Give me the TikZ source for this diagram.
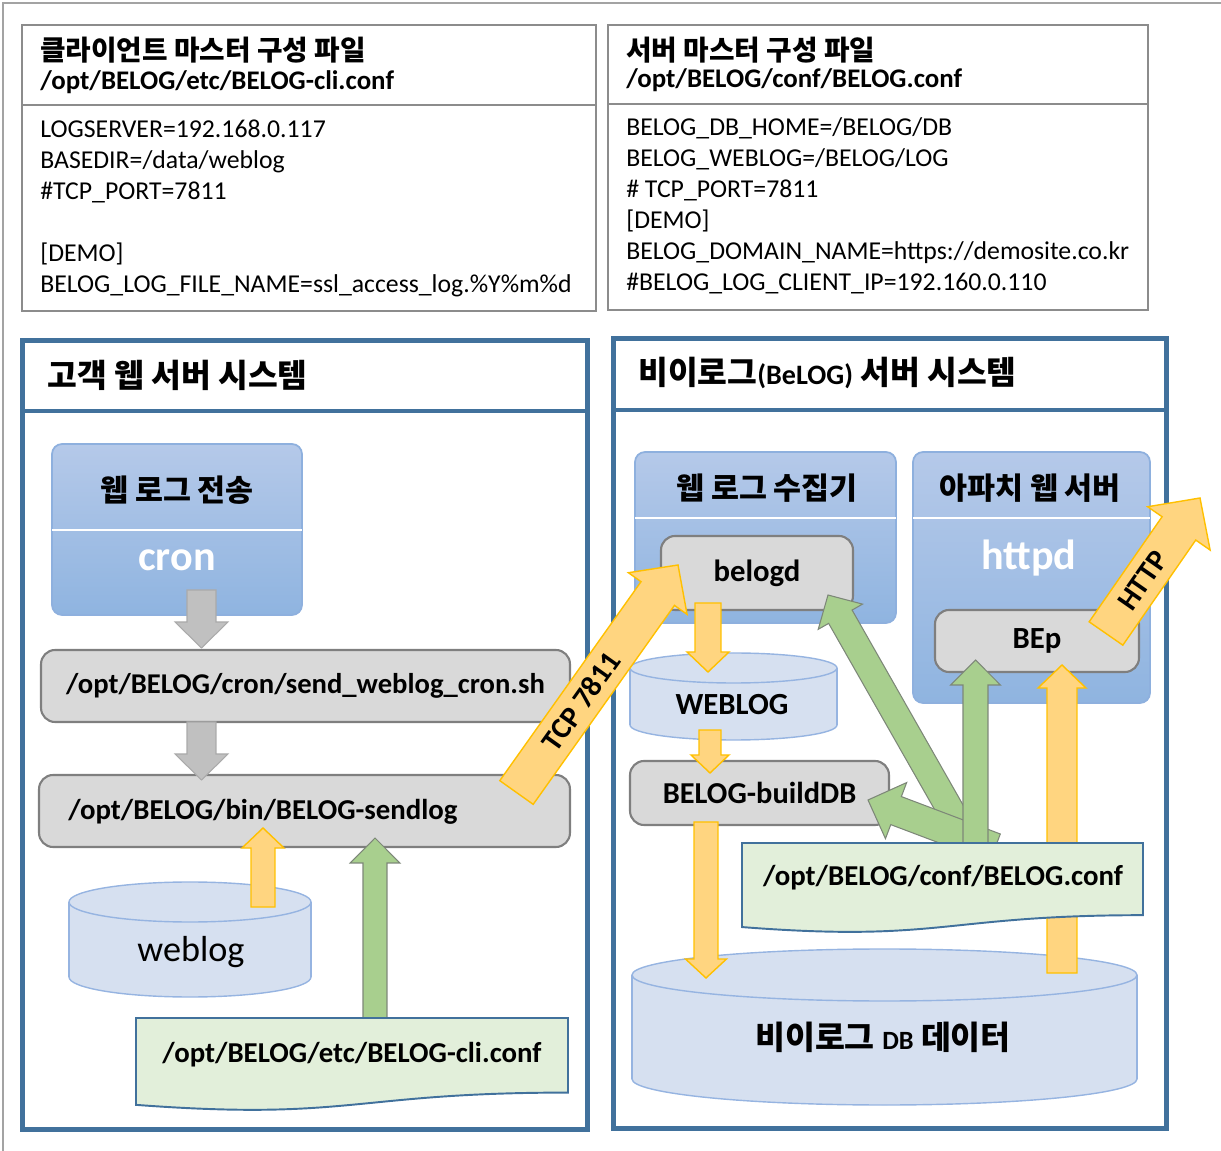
\documentclass[tikz,border=0pt]{standalone}
\usepackage{fontspec}
\setmainfont{Carlito}
\newfontfamily\kr{Noto Sans CJK KR}
\usepackage{tikz}
\usetikzlibrary{calc,positioning}

\definecolor{sysblue}{RGB}{65,113,156}
\definecolor{cfggray}{RGB}{140,140,140}
\definecolor{svctop}{RGB}{181,201,233}
\definecolor{svcbot}{RGB}{143,180,224}
\definecolor{svcline}{RGB}{142,176,222}
\definecolor{procfill}{RGB}{217,217,217}
\definecolor{procline}{RGB}{127,127,127}
\definecolor{cylfill}{RGB}{214,224,240}
\definecolor{cylline}{RGB}{150,180,225}
\definecolor{docfill}{RGB}{226,239,218}
\definecolor{orfill}{RGB}{255,213,128}
\definecolor{orline}{RGB}{255,192,0}
\definecolor{grfill}{RGB}{168,207,142}
\definecolor{grline}{RGB}{125,135,120}
\definecolor{gyfill}{RGB}{192,192,192}
\definecolor{gyline}{RGB}{170,170,170}

% block arrow: [style]{tail}{tip}{shaft}{head width}{head length}, sizes in px
\newcommand\fatarrow[6][]{%
  \coordinate (fah) at ($(#3)!#6*0.02cm!(#2)$);
  \filldraw[#1] ($(#2)!#4*0.01cm!90:(#3)$) -- ($(fah)!#4*0.01cm!90:(#3)$)
    -- ($(fah)!#5*0.01cm!90:(#3)$) -- (#3) -- ($(fah)!#5*0.01cm!-90:(#3)$)
    -- ($(fah)!#4*0.01cm!-90:(#3)$) -- ($(#2)!#4*0.01cm!-90:(#3)$) -- cycle;}

% database drum: {cx}{top ellipse y}{bottom ellipse y}{rx}{ry}
\newcommand\drum[5]{%
  \filldraw[drumbody] (#1,#3) ellipse [x radius=#4*0.02cm, y radius=#5*0.02cm];
  \fill[cylfill] (#1-#4,#2) rectangle (#1+#4,#3);
  \draw[drumbody, fill=none] (#1-#4,#2) -- (#1-#4,#3) (#1+#4,#2) -- (#1+#4,#3);
  \filldraw[drumbody] (#1,#2) ellipse [x radius=#4*0.02cm, y radius=#5*0.02cm];}

% wavy document: {left x}{top y}{width}{height}
\newcommand\confdoc[4]{%
  \filldraw[docshape] (#1,#2) -- (#1+#3,#2) -- (#1+#3,#2+0.802*#4)
    .. controls (#1+#3/2,#2+0.802*#4) and (#1+#3/2,#2+1.1075*#4) .. (#1,#2+0.934*#4) -- cycle;}

\begin{document}
\begin{tikzpicture}[x=0.02cm, y=-0.02cm,
  cfgbox/.style={draw=cfggray, line width=0.9pt, inner sep=0},
  cfghead/.style={anchor=west, inner sep=0, font=\kr\bfseries\fontsize{15.8}{18}\selectfont},
  cfgpath/.style={anchor=west, inner sep=0, font=\bfseries\fontsize{15.3}{18}\selectfont},
  cfgtxt/.style={anchor=base west, inner sep=0, font=\fontsize{14.65}{17}\selectfont},
  sysframe/.style={draw=sysblue, line width=2.8pt, inner sep=0},
  systitle/.style={anchor=west, inner sep=0, font=\kr\bfseries\fontsize{18.4}{21}\selectfont},
  svcbox/.style={draw=svcline, line width=1pt, rounded corners=0.2cm, top color=svctop, bottom color=svcbot, inner sep=0},
  svctitle/.style={inner sep=0, font=\kr\bfseries\fontsize{17.3}{20}\selectfont},
  svcname/.style={inner sep=0, text=white, font=\bfseries\fontsize{24}{28}\selectfont},
  proc/.style={draw=procline, line width=1.2pt, fill=procfill, rounded corners=0.28cm, inner sep=0, font=\bfseries\fontsize{16.3}{19}\selectfont},
  proctxt/.style={inner sep=0, font=\bfseries\fontsize{16.4}{19}\selectfont},
  drumbody/.style={draw=cylline, line width=0.8pt, fill=cylfill},
  drumtxt/.style={inner sep=0, font=\bfseries\fontsize{17.5}{20}\selectfont},
  docshape/.style={draw=sysblue, line width=1.1pt, fill=docfill},
  doctxt/.style={inner sep=0, font=\bfseries\fontsize{16.4}{19}\selectfont},
  orarr/.style={draw=orline, line width=0.8pt, fill=orfill},
  grarr/.style={draw=grline, line width=0.6pt, fill=grfill},
  gyarr/.style={draw=gyline, line width=0.6pt, fill=gyfill},
  arrtxt/.style={inner sep=0, font=\bfseries\fontsize{17}{20}\selectfont},
]
\useasboundingbox (0,0) rectangle (1221,1151);
\draw[cfggray!80, line width=0.8pt] (3,1151) -- (3,3) -- (1221,3);

%% ── master config files (top row) ───────────────────────────────────────
\node[cfgbox, minimum width=11.48cm, minimum height=5.72cm] (clicfg) at (309,168) {};
\draw[cfggray, line width=0.9pt] (22,105) -- (596,105);
\node[cfghead] (clihead) at (40,50) {클라이언트 마스터 구성 파일};
\node[cfgpath] (clipath) at (40,82) {/opt/BELOG/etc/BELOG-cli.conf};
\foreach \i/\ln in {0/{LOGSERVER=192.168.0.117}, 1/{BASEDIR=/data/weblog}, 2/{\#TCP\_PORT=7811},
                    4/{[DEMO]}, 5/{BELOG\_LOG\_FILE\_NAME=ssl\_access\_log.\%Y\%m\%d}}
  \node[cfgtxt] (cliline\i) at (40,138+31*\i) {\ln};

\node[cfgbox, minimum width=10.8cm, minimum height=5.7cm] (srvcfg) at (878,167.5) {};
\draw[cfggray, line width=0.9pt] (608,104) -- (1148,104);
\node[cfghead] (srvhead) at (626,50) {서버 마스터 구성 파일};
\node[cfgpath] (srvpath) at (626,80) {/opt/BELOG/conf/BELOG.conf};
\foreach \i/\ln in {0/{BELOG\_DB\_HOME=/BELOG/DB}, 1/{BELOG\_WEBLOG=/BELOG/LOG}, 2/{\# TCP\_PORT=7811},
                    3/{[DEMO]}, 4/{BELOG\_DOMAIN\_NAME=https://demosite.co.kr},
                    5/{\#BELOG\_LOG\_CLIENT\_IP=192.160.0.110}}
  \node[cfgtxt] (srvline\i) at (626,136+30.9*\i) {\ln};

%% ── system frames ────────────────────────────────────────────────────────
\node[sysframe, minimum width=11.32cm, minimum height=15.8cm] (clisys) at (305,735) {};
\draw[sysframe] (22,411) -- (588,411);
\node[systitle] (clisystitle) at (47,375) {고객 웹 서버 시스템};
\node[sysframe, minimum width=11.08cm, minimum height=15.82cm] (srvsys) at (890,733.5) {};
\draw[sysframe] (613,410) -- (1167,410);
\node[systitle] (srvsystitle) at (638,373)
  {비이로그{\normalfont\bfseries\fontsize{16}{18}\selectfont(BeLOG)} 서버 시스템};

%% ── service boxes ────────────────────────────────────────────────────────
\node[svcbox, minimum width=5cm, minimum height=3.42cm] (sendsvc) at (177,529.5) {};
\draw[white, line width=1pt] (52,530) -- (302,530);
\node[svctitle] (sendsvctitle) at (177,490) {웹 로그 전송};
\node[svcname] (cron) at (177,560) {cron};

\node[svcbox, minimum width=5.22cm, minimum height=3.42cm] (collector) at (765.5,537.5) {};
\draw[white, line width=1pt] (635,518) -- (896,518);
\node[svctitle] (collectortitle) at (767,488) {웹 로그 수집기};

\node[svcbox, minimum width=4.74cm, minimum height=5.02cm] (apache) at (1031.5,577.5) {};
\draw[white, line width=1pt] (913,518) -- (1150,518);
\node[svctitle] (apachetitle) at (1030,488) {아파치 웹 서버};
\node[svcname] (httpd) at (1029,558) {httpd};

%% ── processes ────────────────────────────────────────────────────────────
\node[proc, minimum width=10.58cm, minimum height=1.44cm] (cronsh) at (305.5,686) {/opt/BELOG/cron/send\_weblog\_cron.sh};
\node[proc, minimum width=10.62cm, minimum height=1.44cm] (sendlog) at (304.5,811) {};
\node[proctxt, anchor=west] (sendlogtxt) at (68,812) {/opt/BELOG/bin/BELOG-sendlog};
\node[proc, font=\bfseries\fontsize{17.5}{20}\selectfont, minimum width=3.84cm, minimum height=1.48cm] (belogd) at (757,573) {belogd};
\node[proc, font=\bfseries\fontsize{17.5}{20}\selectfont, minimum width=4.08cm, minimum height=1.24cm] (bep) at (1037,641) {BEp};
\node[proc, font=\bfseries\fontsize{17.3}{20}\selectfont, minimum width=5.18cm, minimum height=1.28cm] (builddb) at (759.5,793) {BELOG-buildDB};

%% ── stores ───────────────────────────────────────────────────────────────
\drum{190}{902}{977}{121}{20}
\node[inner sep=0, font=\fontsize{20.6}{24}\selectfont] (weblog) at (191,952) {weblog};
\drum{733.5}{668}{725}{103.5}{15}
\node[drumtxt] (weblogdir) at (732,705) {WEBLOG};
\drum{884.5}{975}{1079}{252.5}{26}
\node[drumtxt, font=\kr\bfseries\fontsize{18.5}{21}\selectfont] (belogdb) at (883,1037)
  {비이로그 {\normalfont\bfseries\fontsize{15}{17}\selectfont DB} 데이터};

%% ── arrow end points ─────────────────────────────────────────────────────
\coordinate (cronout)   at (201.5,590);  \coordinate (cronshin)  at (201.5,648);
\coordinate (cronshout) at (201.5,722);  \coordinate (sendlogin) at (201.5,780);
\coordinate (weblogout) at (263,907);    \coordinate (sendlogup) at (263,828);
\coordinate (clicfgout) at (375,1025);   \coordinate (sendlogcf) at (375,838);
\coordinate (tcptail)   at (516.5,792.5); \coordinate (tcptip)   at (678,565);
\coordinate (belogdout) at (708,603);    \coordinate (weblogin)  at (708,672);
\coordinate (weblogdirout) at (710,730); \coordinate (builddbin) at (710,773);
\coordinate (builddbout) at (706,822);   \coordinate (belogdbin) at (706,978);
\coordinate (belogdbout) at (1062,973);  \coordinate (bepin)     at (1062,665);
\coordinate (httptail)  at (1106,633.5); \coordinate (httptip)   at (1200,498);
\coordinate (srvcfgA)   at (972,848);    \coordinate (belogdcf)  at (828,595);
\coordinate (srvcfgB)   at (975.5,848);  \coordinate (bepcf)     at (975.5,660);
\coordinate (srvcfgC)   at (995,848);    \coordinate (builddbcf) at (868,800);

%% ── block arrows ─────────────────────────────────────────────────────────
\fatarrow[gyarr]{cronout}{cronshin}{29}{53}{26}
\fatarrow[gyarr]{cronshout}{sendlogin}{29}{53}{26}
\fatarrow[orarr]{weblogout}{sendlogup}{24}{42}{20}
\fatarrow[grarr]{clicfgout}{sendlogcf}{24}{50}{25}
\fatarrow[orarr]{belogdout}{weblogin}{26}{42}{20}
\fatarrow[orarr]{weblogdirout}{builddbin}{22}{38}{18}
\fatarrow[orarr]{builddbout}{belogdbin}{24}{41}{19}
\fatarrow[orarr]{belogdbout}{bepin}{30}{48}{23}
\fatarrow[grarr]{srvcfgA}{belogdcf}{27}{51}{25}
\fatarrow[grarr]{srvcfgC}{builddbcf}{30}{60}{30}
\fatarrow[grarr]{srvcfgB}{bepcf}{25}{50}{25}
\fatarrow[orarr]{tcptail}{tcptip}{41}{72}{35}
\fatarrow[orarr]{httptail}{httptip}{41}{76}{37}
\node[arrtxt, rotate=54.6] (tcplbl) at ($(tcptail)!0.4!(tcptip)$) {TCP 7811};
\node[arrtxt, rotate=55.2] (httplbl) at ($(httptail)!0.39!(httptip)$) {HTTP};

%% ── config documents ─────────────────────────────────────────────────────
\confdoc{136}{1018}{432}{93}
\node[doctxt] (clicfgdoc) at (352,1055) {/opt/BELOG/etc/BELOG-cli.conf};
\confdoc{742}{843}{401}{90}
\node[doctxt] (srvcfgdoc) at (943,878) {/opt/BELOG/conf/BELOG.conf};

\end{tikzpicture}
\end{document}
